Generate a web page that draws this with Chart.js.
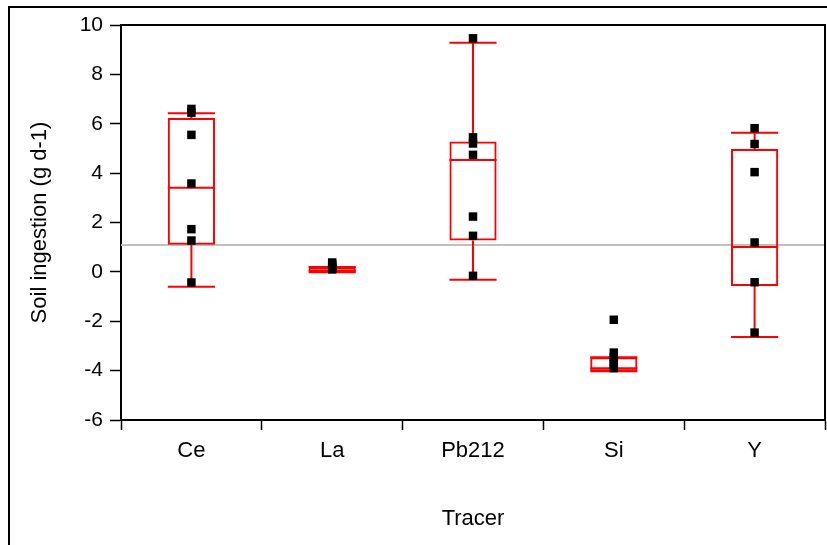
<!DOCTYPE html>
<html>
<head>
<meta charset="utf-8">
<script src="https://cdn.jsdelivr.net/npm/chart.js@4"></script>
<style>
    html, body { margin: 0; padding: 0; background: #fff; }
    #wrap { width: 827px; height: 545px; }
</style>
</head>
<body>
<div id="wrap"><canvas id="boxChart" width="827" height="545"></canvas></div>
<script>
// Soil ingestion box plot by tracer

const tracers = ['Ce', 'La', 'Pb212', 'Si', 'Y'];

// box statistics per tracer
const lowerQuartile = [1.1, 0.0, 1.27, -4.03, -0.57];
const upperQuartile = [6.23, 0.2, 5.28, -3.46, 4.98];
const medians = [3.41, 0.05, 4.53, -3.9, 1.01];
const whiskerLow = [-0.6, -0.02, -0.32, -4.03, -2.64];
const whiskerHigh = [6.43, 0.2, 9.28, -3.46, 5.64];

// individual observations
const ceValues = [6.6, 6.45, 5.55, 3.58, 1.73, 1.27, -0.43];
const laValues = [0.38, 0.3, 0.22, 0.15, 0.1];
const pbValues = [9.46, 5.45, 5.2, 4.74, 2.24, 1.46, -0.16];
const siValues = [-1.94, -3.27, -3.45, -3.6, -3.75, -3.9];
const yValues = [5.82, 5.18, 4.04, 1.19, -0.42, -2.46];

const referenceLevel = 1.09;
const yTicks = [-6, -4, -2, 0, 2, 4, 6, 8, 10];

const observations = [ceValues, laValues, pbValues, siValues, yValues];
const pointData = [];
observations.forEach((values, i) => {
    values.forEach(v => pointData.push({ x: tracers[i], y: v }));
});

const boxRed = '#ff0000';
const fontFamily = "'Liberation Sans', Arial, sans-serif";

// whiskers, caps, medians and the reference line
const boxPlotExtras = {
    id: 'boxPlotExtras',
    beforeDatasetsDraw(chart) {
        const { ctx, chartArea, scales: { x, y } } = chart;
        const meta = chart.getDatasetMeta(0);

        ctx.save();
        ctx.strokeStyle = '#bfbfbf';
        ctx.lineWidth = 2;
        ctx.beginPath();
        ctx.moveTo(chartArea.left, y.getPixelForValue(referenceLevel));
        ctx.lineTo(chartArea.right, y.getPixelForValue(referenceLevel));
        ctx.stroke();

        ctx.strokeStyle = boxRed;
        ctx.lineWidth = 2;
        tracers.forEach((t, i) => {
            const cx = x.getPixelForValue(i);
            const half = meta.data[i].width / 2;
            const yLo = y.getPixelForValue(whiskerLow[i]);
            const yHi = y.getPixelForValue(whiskerHigh[i]);
            const yQ1 = y.getPixelForValue(lowerQuartile[i]);
            const yQ3 = y.getPixelForValue(upperQuartile[i]);
            const yMed = y.getPixelForValue(medians[i]);
            ctx.beginPath();
            ctx.moveTo(cx, yQ1); ctx.lineTo(cx, yLo);
            ctx.moveTo(cx, yQ3); ctx.lineTo(cx, yHi);
            ctx.moveTo(cx - half, yLo); ctx.lineTo(cx + half, yLo);
            ctx.moveTo(cx - half, yHi); ctx.lineTo(cx + half, yHi);
            ctx.moveTo(cx - half, yMed); ctx.lineTo(cx + half, yMed);
            ctx.stroke();
        });
        ctx.restore();
    },
    afterDraw(chart) {
        const { ctx, chartArea } = chart;
        ctx.save();
        ctx.strokeStyle = '#000';
        ctx.lineWidth = 2;
        // plot frame top and right
        ctx.beginPath();
        ctx.moveTo(chartArea.left, chartArea.top);
        ctx.lineTo(chartArea.right, chartArea.top);
        ctx.lineTo(chartArea.right, chartArea.bottom);
        ctx.stroke();
        // outer figure frame
        ctx.beginPath();
        ctx.moveTo(9, chart.height);
        ctx.lineTo(9, 7);
        ctx.lineTo(chart.width, 7);
        ctx.stroke();
        ctx.restore();
    }
};

const boxChart = new Chart(document.getElementById('boxChart').getContext('2d'), {
    type: 'bar',
    data: {
        labels: tracers,
        datasets: [{
            label: 'Box',
            data: tracers.map((t, i) => [lowerQuartile[i], upperQuartile[i]]),
            backgroundColor: 'rgba(0,0,0,0)',
            borderColor: boxRed,
            borderWidth: 2,
            borderSkipped: false,
            barPercentage: 0.335,
            categoryPercentage: 1,
            order: 2
        }, {
            type: 'scatter',
            label: 'Soil ingestion',
            data: pointData,
            pointStyle: 'rect',
            pointRadius: 6,
            pointBackgroundColor: '#000',
            pointBorderWidth: 0,
            order: 1
        }]
    },
    options: {
        responsive: false,
        animation: false,
        events: [],
        layout: {
            autoPadding: false,
            padding: { top: 25, right: 2, left: 0, bottom: 0 }
        },
        plugins: {
            legend: { display: false },
            tooltip: { enabled: false }
        },
        scales: {
            x: {
                type: 'category',
                offset: true,
                afterFit: scale => {
                    scale.height = 125;
                    scale.paddingLeft = 0;
                    scale.paddingRight = 0;
                },
                grid: {
                    offset: true,
                    drawOnChartArea: false,
                    drawTicks: true,
                    tickLength: 10,
                    tickWidth: 1.5,
                    tickColor: '#000'
                },
                border: { color: '#000', width: 2 },
                ticks: {
                    color: '#000',
                    padding: 8,
                    font: { family: fontFamily, size: 22 }
                },
                title: {
                    display: true,
                    text: 'Tracer',
                    color: '#000',
                    padding: { top: 0, bottom: 13 },
                    font: { family: fontFamily, size: 22 }
                }
            },
            y: {
                min: -6,
                max: 10,
                afterFit: scale => {
                    scale.width = 121;
                    scale.paddingTop = 0;
                    scale.paddingBottom = 0;
                },
                afterBuildTicks: scale => { scale.ticks = yTicks.map(v => ({ value: v })); },
                grid: {
                    drawOnChartArea: false,
                    drawTicks: true,
                    tickLength: 11,
                    tickWidth: 1.5,
                    tickColor: '#000'
                },
                border: { color: '#000', width: 2 },
                ticks: {
                    color: '#000',
                    padding: 7,
                    font: { family: fontFamily, size: 21 }
                },
                title: {
                    display: true,
                    text: 'Soil ingestion (g d-1)',
                    color: '#000',
                    padding: { top: 27, bottom: 0 },
                    font: { family: fontFamily, size: 22 }
                }
            }
        }
    },
    plugins: [boxPlotExtras]
});
</script>
</body>
</html>
